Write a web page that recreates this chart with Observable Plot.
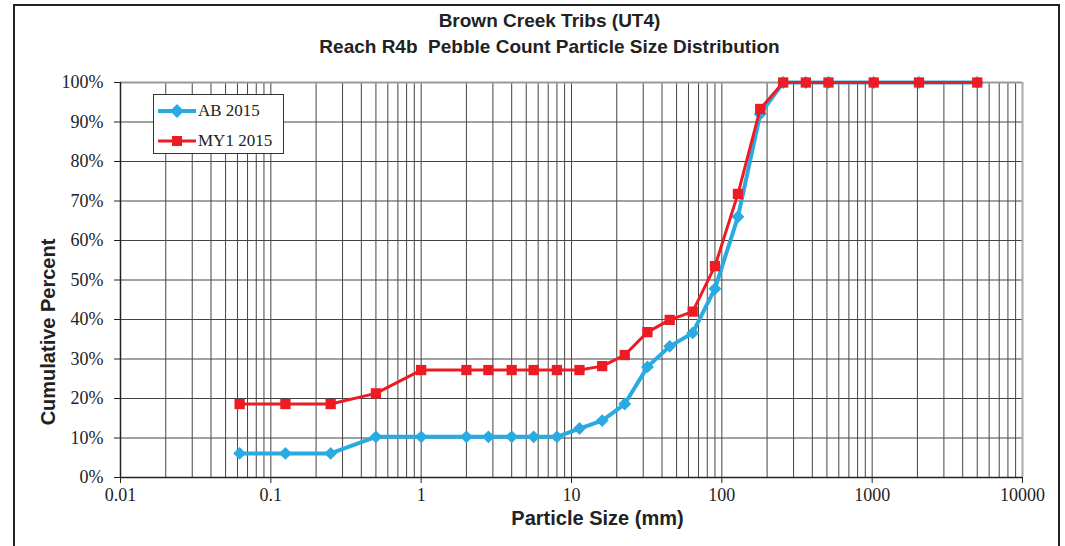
<!DOCTYPE html>
<html>
<head>
<meta charset="utf-8">
<script src="https://cdn.jsdelivr.net/npm/d3@7"></script>
<script src="https://cdn.jsdelivr.net/npm/@observablehq/plot@0.6"></script>
<style>
  html, body { margin: 0; padding: 0; background: #fff; overflow: hidden; }
  #wrap { position: relative; width: 1065px; height: 546px; }
  #border { position: absolute; left: 13px; top: 4px; width: 1047px; height: 600px; border: 2px solid #222; box-sizing: border-box; pointer-events: none; }
  #legend { position: absolute; left: 153px; top: 94px; width: 131px; height: 60px; border: 1px solid #333; background: #fff; box-sizing: border-box; font-family: "Liberation Serif", serif; font-size: 17px; color: #222; }
  #legend .row { position: absolute; left: 4px; height: 20px; display: flex; align-items: center; }
  #legend svg { margin-right: 2px; }
</style>
</head>
<body>
<div id="wrap">
  <div id="chart"></div>
  <div id="border"></div>
  <div id="legend"></div>
</div>
<script>
// Particle sizes (mm)
const sizes = [0.062, 0.125, 0.25, 0.5, 1, 2, 2.8, 4, 5.6, 8, 11.3, 16, 22.6, 32, 45, 64, 90, 128, 180, 256, 362, 512, 1024, 2048, 5000];
// Cumulative percent
const ab2015 = [6.1, 6.1, 6.1, 10.3, 10.3, 10.3, 10.3, 10.3, 10.3, 10.3, 12.4, 14.4, 18.6, 28.0, 33.2, 36.6, 47.8, 66.0, 92.0, 100, 100, 100, 100, 100, 100];
const my12015 = [18.6, 18.6, 18.6, 21.3, 27.2, 27.2, 27.2, 27.2, 27.2, 27.2, 27.2, 28.2, 31.0, 36.8, 39.9, 42.0, 53.5, 71.8, 93.3, 100, 100, 100, 100, 100, 100];
const seriesNames = ["AB 2015", "MY1 2015"];
const seriesColors = ["#29abe2", "#ed1c24"];
const xTicks = [0.01, 0.1, 1, 10, 100, 1000, 10000];
const xTickLabels = ["0.01", "0.1", "1", "10", "100", "1000", "10000"];
const yTicks = [0, 10, 20, 30, 40, 50, 60, 70, 80, 90, 100];

const abData = sizes.map((s, i) => ({size: s, pct: ab2015[i]}));
const myData = sizes.map((s, i) => ({size: s, pct: my12015[i]}));
const xLabelData = xTicks.map((t, i) => ({t, label: xTickLabels[i]}));

// minor gridlines 1..9 x 10^k
const gridX = [];
for (let k = -2; k <= 3; k++) for (let m = 1; m <= 9; m++) gridX.push(m * Math.pow(10, k));
gridX.push(10000);

const chart = Plot.plot({
  width: 1065,
  height: 546,
  marginLeft: 120,
  marginRight: 43,
  marginTop: 82,
  marginBottom: 69,
  style: {background: "transparent"},
  x: {type: "log", domain: [0.01, 10000]},
  y: {domain: [0, 100]},
  marks: [
    Plot.ruleX(gridX, {stroke: "#444", strokeWidth: 1}),
    Plot.ruleY(yTicks, {stroke: "#444", strokeWidth: 1}),
    Plot.ruleY([100], {stroke: "#999", strokeWidth: 2}),
    Plot.ruleX([10000], {stroke: "#aaa", strokeWidth: 2}),
    Plot.ruleX([0.01], {stroke: "#222", strokeWidth: 1.5}),
    Plot.ruleY([0], {stroke: "#222", strokeWidth: 1.5}),
    Plot.axisX(xTicks, {tickFormat: null, text: null, tickSize: 6, stroke: "#222", label: null}),
    Plot.text(xLabelData, {x: "t", text: "label", frameAnchor: "bottom", dy: 23, fontFamily: "Liberation Serif", fontSize: 18, fill: "#222"}),
    Plot.axisY(yTicks, {tickFormat: d => d + "%", tickSize: 6, tickPadding: 11, stroke: "#222", fill: "#222", fontFamily: "Liberation Serif", fontSize: 18, label: null}),
    Plot.line(abData, {x: "size", y: "pct", stroke: seriesColors[0], strokeWidth: 4}),
    Plot.dot(abData, {x: "size", y: "pct", symbol: "diamond2", r: 5.8, fill: seriesColors[0], stroke: "none"}),
    Plot.line(myData, {x: "size", y: "pct", stroke: seriesColors[1], strokeWidth: 3}),
    Plot.dot(myData, {x: "size", y: "pct", symbol: "square", r: 5.8, fill: seriesColors[1], stroke: "none"}),
    Plot.text(["Brown Creek Tribs (UT4)"], {frameAnchor: "top", dy: -69, dx: -22, fontFamily: "Liberation Sans", fontWeight: "bold", fontSize: 19, fill: "#222"}),
    Plot.text(["Reach R4b  Pebble Count Particle Size Distribution"], {frameAnchor: "top", dy: -43, dx: -22, fontFamily: "Liberation Sans", fontWeight: "bold", fontSize: 19, fill: "#222"}),
    Plot.text(["Particle Size (mm)"], {frameAnchor: "bottom", dy: 47, dx: 26, fontFamily: "Liberation Sans", fontWeight: "bold", fontSize: 20, fill: "#222"}),
    Plot.text(["Cumulative Percent"], {frameAnchor: "left", textAnchor: "middle", dx: -72, dy: 52, rotate: -90, fontFamily: "Liberation Sans", fontWeight: "bold", fontSize: 20, fill: "#222"})
  ]
});
document.getElementById("chart").appendChild(chart);

// legend
const legend = document.getElementById("legend");
seriesNames.forEach((name, i) => {
  const row = document.createElement("div");
  row.className = "row";
  row.style.top = (i === 0 ? 6 : 36) + "px";
  const sym = i === 0
    ? `<polygon points="19,3 26,10 19,17 12,10" fill="${seriesColors[0]}"/>`
    : `<rect x="14" y="5" width="10" height="10" fill="${seriesColors[1]}"/>`;
  row.innerHTML = `<svg width="38" height="20"><line x1="1" y1="10" x2="37" y2="10" stroke="${seriesColors[i]}" stroke-width="${i === 0 ? 4 : 3}" stroke-linecap="round"/>${sym}</svg><span>${name}</span>`;
  legend.appendChild(row);
});
</script>
</body>
</html>
